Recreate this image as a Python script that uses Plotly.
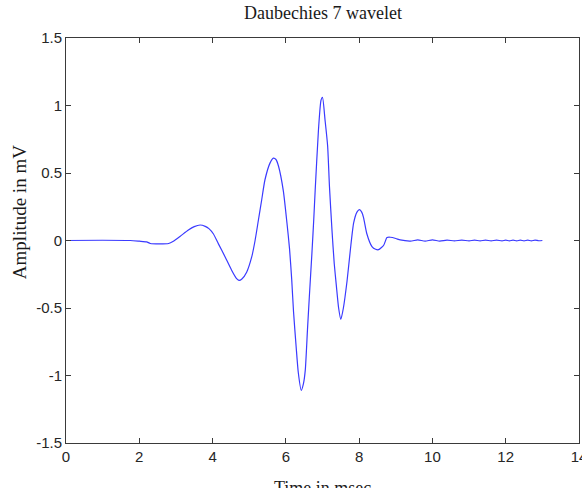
import plotly.graph_objects as go

# Time axis (msec) and amplitude (mV)
time_ms = [0.0, 1.0, 1.75, 2.0, 2.2, 2.3, 2.55, 2.8, 2.93, 3.11, 3.34, 3.5, 3.66, 3.8, 3.9,
           4.02, 4.16, 4.34, 4.52, 4.65, 4.72, 4.8, 4.93, 5.07, 5.16, 5.25, 5.34, 5.43, 5.57,
           5.66, 5.73, 5.80, 5.93, 6.03, 6.10, 6.16, 6.21, 6.28, 6.34, 6.42, 6.48, 6.53, 6.59,
           6.64, 6.71, 6.76, 6.80, 6.89, 6.96, 7.00, 7.07, 7.14, 7.19, 7.26, 7.32, 7.38, 7.44,
           7.50, 7.57, 7.67, 7.76, 7.85, 7.94, 8.01, 8.07, 8.12, 8.21, 8.35, 8.45, 8.53, 8.67,
           8.76, 8.85, 9.0, 9.12, 9.4, 9.6, 9.8, 10.0, 10.2, 10.4, 10.6, 10.8, 11.0, 11.15,
           11.3, 11.45, 11.6, 11.75, 11.9, 12.0, 12.1, 12.2, 12.3, 12.4, 12.5, 12.6, 12.7,
           12.8, 12.9, 13.0]
amplitude_mv = [0.0, 0.002, 0.0, -0.005, -0.01, -0.022, -0.025, -0.022, -0.005, 0.03, 0.078,
                0.103, 0.115, 0.105, 0.088, 0.05, -0.025, -0.12, -0.22, -0.28, -0.295, -0.285,
                -0.235, -0.12, 0.0, 0.15, 0.30, 0.45, 0.575, 0.61, 0.60, 0.55, 0.37, 0.13, -0.06,
                -0.29, -0.53, -0.785, -0.98, -1.11, -1.06, -0.96, -0.66, -0.42, -0.10, 0.15, 0.37,
                0.82, 1.04, 1.06, 0.89, 0.70, 0.40, 0.07, -0.17, -0.34, -0.50, -0.585, -0.50,
                -0.30, -0.07, 0.13, 0.21, 0.228, 0.21, 0.17, 0.05, -0.045, -0.065, -0.068,
                -0.035, 0.022, 0.024, 0.015, 0.004, -0.004, 0.004, -0.004, 0.004, -0.004, 0.003,
                -0.003, 0.003, -0.003, 0.003, -0.003, 0.003, -0.003, 0.003, -0.003, 0.003,
                -0.003, 0.003, -0.003, 0.003, -0.003, 0.003, -0.003, 0.003, -0.002, 0.0]

x_tickvals = [0, 2, 4, 6, 8, 10, 12, 14]
x_ticktext = ["0", "2", "4", "6", "8", "10", "12", "14"]
y_tickvals = [-1.5, -1, -0.5, 0, 0.5, 1, 1.5]
y_ticktext = ["-1.5", "-1", "-0.5", "0", "0.5", "1", "1.5"]

title_text = "Daubechies 7 wavelet"
x_label = "Time in msec"
y_label = "Amplitude in mV"

fig = go.Figure()
fig.add_trace(go.Scatter(
    x=time_ms, y=amplitude_mv, mode="lines",
    line=dict(color="#3a3aff", width=1.2, shape="spline", smoothing=0.6),
    showlegend=False, hoverinfo="skip"))

axis_common = dict(showline=True, linecolor="#3a3a3a", linewidth=1, mirror="ticks",
                   ticks="inside", ticklen=5, tickcolor="#3a3a3a", showgrid=False,
                   zeroline=False, automargin=False, ticklabeloverflow="allow",
                   tickfont=dict(family="Liberation Sans, Arial", size=15, color="#262626"))

fig.update_xaxes(range=[0, 14], tickvals=x_tickvals, ticktext=x_ticktext, **axis_common)
fig.update_yaxes(range=[-1.5, 1.5], tickvals=y_tickvals, ticktext=y_ticktext, **axis_common)

serif = dict(family="Liberation Serif, Times New Roman", size=18, color="#1a1a1a")
fig.update_layout(
    width=582, height=488,
    margin=dict(l=66, r=3, t=38, b=45),
    plot_bgcolor="white", paper_bgcolor="white",
    annotations=[
        dict(text=title_text, xref="paper", yref="paper", x=0.5, y=1.0, yshift=13,
             xanchor="center", yanchor="bottom", showarrow=False, font=serif),
        dict(text=y_label, xref="paper", yref="paper", x=0, xshift=-47, y=0.57,
             xanchor="center", yanchor="middle", textangle=-90, showarrow=False,
             font=dict(serif, size=19)),
        dict(text=x_label, xref="paper", yref="paper", x=0.5, y=0, yshift=-33,
             xanchor="center", yanchor="top", showarrow=False, font=serif),
    ],
)

fig.write_html("out.html", config={"displayModeBar": False},
               post_script="document.body.style.margin='0';")
